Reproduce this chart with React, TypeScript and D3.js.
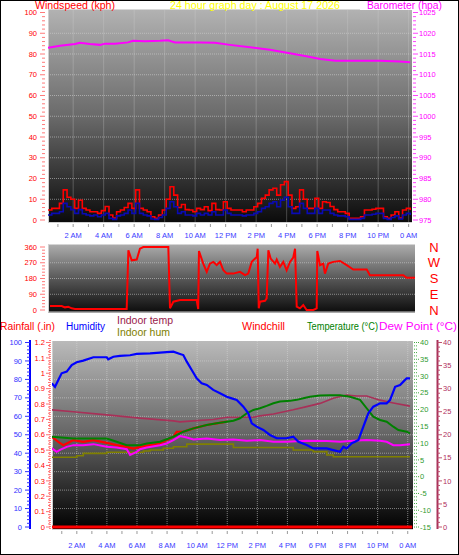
import React from "react";
import * as d3 from "d3";

const FONT = '"Liberation Sans", Arial, Helvetica, sans-serif';

const titleText = "24 hour graph day : August 17 2026";

const hourTicks = [2, 4, 6, 8, 10, 12, 14, 16, 18, 20, 22, 24];
const hourLabels = ["2 AM", "4 AM", "6 AM", "8 AM", "10 AM", "12 PM", "2 PM", "4 PM", "6 PM", "8 PM", "10 PM", "0 AM"];

// Wind speed (kph), one sample every 15 minutes from 00:21
const windStartHour = 0.35;
const windStepHour = 0.25;
const windGust = [
  4.8, 5.6, 5.6, 8, 14.5, 11, 10, 5.6, 9.5, 5.6, 4.8, 4,
  4, 3.2, 4.5, 6.5, 2.4, 1, 4, 4.8, 6, 8, 5.6, 14.5,
  5.6, 4.8, 4, 1.6, 0.8, 2.4, 4.8, 10, 16, 12, 6, 7.5,
  5, 4.8, 4, 5.6, 5, 6.4, 4.5, 8, 5, 4.8, 8.8, 5.6,
  4.8, 4.8, 4.8, 4, 4.8, 4.8, 6.4, 8, 10.4, 12, 14.5, 15.3,
  12, 17, 18.5, 12, 5.6, 6.4, 14.5, 10, 5.6, 5.6, 10.4, 5.6,
  8.8, 8.4, 6.5, 5, 4, 4, 3.2, 0.8, 0.8, 0.8, 1.6, 4.8,
  4.8, 5.2, 5.6, 5.6, 1.6, 0.8, 2.4, 4, 1, 4.8, 5.6, 4.8,
];
const windAvg = [
  2.4, 3.2, 3.2, 4, 8, 6.4, 5, 3.2, 5, 3, 2.4, 2,
  2.4, 1.6, 2.4, 3.2, 0.8, 0.3, 2, 2.4, 3.2, 4.8, 3.2, 8,
  3.2, 2.4, 2, 0.5, 0.3, 1.2, 2.4, 5.6, 8.8, 6.4, 3.2, 4,
  2.4, 2.4, 2, 3.2, 2.4, 3.2, 2.4, 4, 2.4, 2.4, 4.8, 3.2,
  2.4, 2.4, 2.4, 2, 2.4, 2.4, 3.2, 4, 5.6, 6.4, 8, 8.8,
  6.4, 9.6, 11, 6.4, 3.2, 3.2, 8, 5.6, 3.2, 3.2, 5.6, 3.2,
  4.8, 4.8, 3.2, 2.4, 2, 2, 1.6, 0.3, 0.3, 0.3, 0.8, 2.4,
  2.4, 2.8, 3.2, 3.2, 0.8, 0.3, 1.2, 2, 0.5, 2.4, 3.2, 2.4,
];

// Barometer (hPa)
const baroHours = [0.35, 1.14, 2.12, 2.45, 3.1, 3.76, 4.09, 4.74, 5.6, 5.92, 6.71, 7.69, 8.22, 8.68, 10.32, 11.3, 12.28, 13.6, 14.9, 16.2, 17.2, 18.2, 19.2, 20.8, 22.1, 23.4, 24.1];
const baroHpa = [1016.5, 1017.0, 1017.4, 1017.7, 1017.4, 1017.2, 1017.5, 1017.5, 1017.8, 1018.2, 1018.1, 1018.2, 1018.3, 1017.8, 1017.8, 1017.7, 1017.2, 1016.6, 1016.0, 1015.2, 1014.5, 1013.8, 1013.4, 1013.4, 1013.4, 1013.2, 1013.0];

// Wind direction (degrees)
const dirHours = [0.48, 1.25, 1.46, 1.68, 1.9, 2.12, 5.51, 5.62, 5.84, 6.17, 6.38, 6.6, 8.24, 8.35, 8.57, 9.0, 10.1, 10.2, 10.25, 10.53, 10.76, 10.97, 11.19, 11.41, 11.63, 11.85, 12.07, 12.5, 12.94, 13.27, 13.48, 13.71, 14.04, 14.1, 14.17, 14.25, 14.58, 14.69, 14.8, 14.95, 15.24, 15.35, 15.56, 15.78, 16.0, 16.22, 16.43, 16.55, 16.66, 16.87, 17.09, 17.31, 17.75, 17.97, 18.01, 18.19, 18.4, 18.51, 18.73, 19.06, 19.5, 19.94, 20.37, 21.25, 21.46, 23.65, 23.87, 24.42];
const dirDeg = [22.7, 22.7, 15.2, 18.9, 9.5, 5.7, 5.7, 341, 284, 288, 350.5, 360, 360, 9.5, 47.4, 56.8, 56.8, 5.7, 337, 265, 218, 265, 275, 256, 275, 227, 208, 208, 218, 199, 208, 275, 303, 350.5, 9.5, 47.4, 53, 66.3, 341, 294, 265, 288, 246, 275, 227, 275, 299, 350.5, 18.9, 9.5, 28.4, 0, 0, 9.5, 337, 256, 265, 208, 265, 275, 280, 256, 231, 231, 199, 199, 184, 184];

// Bottom panel series
const humHours = [0.33, 0.55, 0.77, 0.99, 1.33, 1.66, 1.99, 2.43, 3.1, 3.99, 4.09, 4.43, 4.87, 5.54, 5.98, 6.87, 7.75, 8.42, 8.86, 9.08, 9.31, 9.64, 9.97, 10.3, 10.64, 11.07, 11.52, 11.97, 12.3, 12.63, 13.07, 13.4, 13.63, 13.96, 14.4, 14.84, 15.29, 15.95, 16.39, 16.73, 17.28, 17.72, 18.62, 19.05, 19.5, 19.72, 19.94, 20.28, 20.5, 20.72, 21.05, 21.38, 21.71, 22.16, 22.6, 22.82, 23.04, 23.16, 23.49, 23.71, 23.93, 24.15];
const humValues = [77.9, 76.0, 79.7, 83.3, 84.2, 87.8, 89.3, 90.2, 92.0, 92.0, 90.9, 92.3, 92.7, 93.1, 93.8, 94.1, 94.7, 95.0, 93.8, 93.2, 89.6, 85.1, 80.6, 77.9, 77.0, 74.3, 72.5, 70.6, 69.7, 68.8, 65.2, 61.6, 56.2, 54.4, 52.6, 49.9, 48.1, 48.1, 49.0, 46.2, 44.4, 42.6, 42.6, 41.7, 40.8, 43.5, 42.6, 45.4, 46.2, 47.2, 54.4, 61.6, 65.2, 67.0, 67.0, 68.8, 73.4, 76.0, 77.0, 78.8, 80.6, 80.6];

const tempHours = [0.33, 1.77, 3.99, 4.65, 5.32, 6.2, 6.65, 7.53, 8.42, 9.08, 9.75, 10.64, 11.3, 11.97, 12.41, 12.85, 13.3, 13.74, 14.18, 14.62, 15.07, 15.51, 16.17, 16.62, 17.06, 17.5, 18.17, 18.83, 19.5, 20.16, 20.83, 21.27, 21.71, 22.16, 22.6, 23.04, 23.38, 23.93, 24.15];
const tempValues = [11.9, 11.4, 11.4, 10.4, 9.4, 9.4, 9.9, 10.4, 11.9, 13.4, 14.4, 15.4, 15.9, 16.4, 16.7, 17.4, 18.9, 19.9, 20.4, 21.1, 21.9, 22.4, 22.6, 22.9, 23.4, 23.8, 24.2, 24.3, 24.3, 23.8, 22.9, 20.4, 17.9, 16.9, 16.4, 14.9, 13.9, 13.4, 12.9];

const chillHours = [0.33, 0.77, 1.1, 1.33, 1.77, 2.43, 3.1, 3.99, 4.65, 5.32, 5.76, 6.2, 6.87, 7.53, 8.42, 8.64, 9.08, 9.75, 10.64, 11.3, 11.97];
const chillValues = [11.9, 10.4, 9.4, 9.9, 10.9, 10.4, 10.9, 10.1, 9.4, 8.9, 8.4, 8.9, 9.4, 9.9, 11.9, 13.4, 13.4, 14.4, 15.4, 15.9, 16.4];

const dewHours = [0.33, 0.66, 0.88, 1.33, 1.77, 2.43, 3.1, 3.99, 4.65, 5.32, 5.54, 5.98, 6.2, 6.65, 7.53, 7.97, 8.42, 8.86, 9.31, 9.75, 10.64, 11.52, 12.41, 13.3, 14.18, 15.07, 15.95, 17.28, 18.62, 19.5, 20.39, 21.27, 22.16, 22.6, 23.04, 23.49, 24.15];
const dewValues = [8.5, 7.4, 8.0, 8.9, 9.4, 9.4, 9.7, 8.9, 8.7, 8.2, 6.5, 7.4, 8.2, 8.7, 9.4, 9.9, 10.9, 12.1, 11.7, 11.1, 11.4, 10.9, 11.1, 10.7, 10.9, 10.4, 10.4, 10.7, 10.6, 10.4, 10.7, 10.9, 10.7, 10.4, 9.4, 9.4, 9.7];

const inTempHours = [0.33, 1.77, 3.99, 6.2, 8.42, 8.86, 9.75, 11.07, 11.97, 12.85, 13.74, 14.18, 15.07, 16.39, 17.28, 18.17, 19.05, 19.94, 20.61, 21.27, 22.16, 23.04, 24.15];
const inTempValues = [25.4, 25.0, 24.3, 23.6, 23.0, 22.8, 23.0, 23.3, 23.8, 23.8, 23.8, 24.1, 24.5, 25.4, 26.1, 26.8, 27.9, 28.6, 28.4, 28.4, 27.5, 26.9, 26.2];

const inHumHours = [0.33, 1.33, 1.99, 2.43, 3.1, 3.99, 6.2, 6.43, 6.87, 7.75, 8.42, 9.31, 11.97, 12.41, 15.95, 16.39, 17.72, 18.62, 19.05, 23.93, 24.15];
const inHumValues = [37.8, 37.8, 38.6, 39.9, 39.9, 40.5, 40.5, 41.2, 41.7, 42.7, 43.5, 44.9, 44.9, 43.1, 43.1, 41.7, 40.8, 39.0, 38.1, 38.1, 38.1];

const rainHours = [0.3, 24.3];
const rainValues = [0, 0];

const windTicks = [0, 10, 20, 30, 40, 50, 60, 70, 80, 90, 100];
const baroTicks = [975, 980, 985, 990, 995, 1000, 1005, 1010, 1015, 1020, 1025];
const dirTicks = [0, 90, 180, 270, 360];
const dirNames = ["N", "E", "S", "W", "N"];
const humTicks = [0, 10, 20, 30, 40, 50, 60, 70, 80, 90, 100];
const rainTicks = [0, 0.1, 0.2, 0.3, 0.4, 0.5, 0.6, 0.7, 0.8, 0.9, 1, 1.1, 1.2];
const tempTicks = [-15, -10, -5, 0, 5, 10, 15, 20, 25, 30, 35, 40];
const inTicks = [0, 5, 10, 15, 20, 25, 30, 35, 40];

function path(xs: number[], ys: number[], sx: any, sy: any, curve: any = d3.curveLinear) {
  const idx = xs.map((_, i) => i).filter((i) => i < ys.length);
  return d3.line<number>().x((i) => sx(xs[i])).y((i) => sy(ys[i])).curve(curve)(idx) || "";
}

function Head({ x, y, w, color, children }: { x: number; y: number; w: number; color: string; children: any }) {
  return (
    <text x={x} y={y} fontSize={10} fill={color} textLength={w} lengthAdjust="spacingAndGlyphs">{children}</text>
  );
}

export default function App() {
  const xTop = d3.scaleLinear().domain([0.35, 24.22]).range([48, 412]);
  const xBot = d3.scaleLinear().domain([0.35, 24.35]).range([52, 413]);
  const yWind = d3.scaleLinear().domain([0, 100]).range([220, 12.5]);
  const yBaro = d3.scaleLinear().domain([975, 1025]).range([220, 12.5]);
  const yDir = d3.scaleLinear().domain([0, 360]).range([310, 247]);
  const yHum = d3.scaleLinear().domain([0, 100]).range([527, 342.5]);
  const yRain = d3.scaleLinear().domain([0, 1.2]).range([527, 342.5]);
  const yTemp = d3.scaleLinear().domain([-15, 40]).range([527, 342.5]);
  const yIn = d3.scaleLinear().domain([0, 40]).range([527, 342.5]);

  const windHours = windGust.map((_, i) => windStartHour + i * windStepHour);

  const top = { x0: 48, x1: 412, y0: 9.5, y1: 223 };
  const mid = { x0: 48, x1: 415, y0: 244.5, y1: 312.5 };
  const bot = { x0: 52, x1: 413, y0: 341, y1: 530 };

  const grid = "rgba(215,215,215,0.55)";
  const small = 7.5;

  return (
    <svg width={459} height={555} style={{ position: "absolute", left: 0, top: 0, background: "#fff" }} fontFamily={FONT}>
      <defs>
        <linearGradient id="gTop" x1="0" y1="0" x2="0" y2="1">
          <stop offset="0" stopColor="#b2b2b2" />
          <stop offset="0.5" stopColor="#6a6a6a" />
          <stop offset="1" stopColor="#0a0a0a" />
        </linearGradient>
        <linearGradient id="gMid" x1="0" y1="0" x2="0" y2="1">
          <stop offset="0" stopColor="#acacac" />
          <stop offset="0.55" stopColor="#505050" />
          <stop offset="1" stopColor="#0c0c0c" />
        </linearGradient>
        <linearGradient id="gBot" x1="0" y1="0" x2="0" y2="1">
          <stop offset="0" stopColor="#bababa" />
          <stop offset="0.5" stopColor="#646464" />
          <stop offset="1" stopColor="#000000" />
        </linearGradient>
        <clipPath id="cTop"><rect x={top.x0} y={top.y0} width={top.x1 - top.x0} height={top.y1 - top.y0} /></clipPath>
        <clipPath id="cMid"><rect x={mid.x0} y={mid.y0} width={mid.x1 - mid.x0} height={mid.y1 - mid.y0} /></clipPath>
        <clipPath id="cBot"><rect x={bot.x0} y={bot.y0} width={bot.x1 - bot.x0} height={bot.y1 - bot.y0} /></clipPath>
      </defs>
      <rect x={0.5} y={0.5} width={458} height={554} fill="#fff" stroke="#000" />

      {/* ===== Top panel ===== */}
      <rect x={top.x0} y={top.y0} width={top.x1 - top.x0} height={top.y1 - top.y0} fill="url(#gTop)" />
      {windTicks.slice(1, -1).map((v) => (
        <line key={"gw" + v} x1={top.x0} x2={top.x1} y1={yWind(v)} y2={yWind(v)} stroke={grid} strokeDasharray="1,1" />
      ))}
      {hourTicks.map((h) => (
        <line key={"gv" + h} x1={xTop(h)} x2={xTop(h)} y1={top.y0} y2={top.y1} stroke={grid} strokeDasharray="1,1" />
      ))}
      <line x1={top.x0} x2={top.x1} y1={top.y1 - 0.5} y2={top.y1 - 0.5} stroke="#cfcfcf" />
      <line x1={top.x0 + 0.5} x2={top.x0 + 0.5} y1={top.y0} y2={top.y1} stroke="#cfcfcf" />
      <g clipPath="url(#cTop)">
        <path d={path(windHours, windGust, xTop, yWind, d3.curveStepAfter)} fill="none" stroke="#ff0000" strokeWidth={1.6} />
        <path d={path(windHours, windAvg, xTop, yWind, d3.curveStepAfter)} fill="none" stroke="#0a0ab4" strokeWidth={1.6} />
        <path d={path(baroHours, baroHpa, xTop, yBaro)} fill="none" stroke="#ff00ff" strokeWidth={2} />
      </g>
      {d3.range(0, 101, 2).map((v) => (
        <line key={"tw" + v} x1={v % 10 === 0 ? 40 : 42} x2={45} y1={yWind(v)} y2={yWind(v)} stroke="#ff7a7a" />
      ))}
      {windTicks.map((v) => (
        <text key={"lw" + v} x={37} y={yWind(v)} dy="0.35em" fontSize={small} fill="#ff0000" textAnchor="end">{v}</text>
      ))}
      {d3.range(975, 1026, 1).map((v) => (
        <line key={"tb" + v} x1={413} x2={v % 5 === 0 ? 418 : 416} y1={yBaro(v)} y2={yBaro(v)} stroke="#ff44ff" />
      ))}
      {baroTicks.map((v) => (
        <text key={"lb" + v} x={419} y={yBaro(v)} dy="0.35em" fontSize={small} fill="#ff00ff">{v}</text>
      ))}
      <rect x={360} y={1} width={97} height={9} fill="#fff" />
      <Head x={35} y={9} w={80} color="#ff0000">Windspeed (kph)</Head>
      <Head x={170} y={9} w={170} color="#ffff00">{titleText}</Head>
      <Head x={367} y={9} w={75} color="#ff00ff">Barometer (hpa)</Head>
      {d3.range(1, 25).map((h) => (
        <line key={"xt" + h} x1={xTop(h)} x2={xTop(h)} y1={224} y2={227} stroke="#9a9a9a" />
      ))}
      {hourTicks.map((h, i) => (
        <text key={"xl" + h} x={xTop(h)} y={238} fontSize={small} fill="#3a3aff" textAnchor="middle">{hourLabels[i]}</text>
      ))}

      {/* ===== Middle panel ===== */}
      <rect x={mid.x0} y={mid.y0} width={mid.x1 - mid.x0} height={mid.y1 - mid.y0} fill="url(#gMid)" />
      {[90, 180, 270].map((v) => (
        <line key={"gd" + v} x1={mid.x0} x2={mid.x1} y1={yDir(v)} y2={yDir(v)} stroke={grid} strokeDasharray="1,1" />
      ))}
      <line x1={mid.x0} x2={mid.x1} y1={mid.y1 - 0.5} y2={mid.y1 - 0.5} stroke="#d0d0d0" />
      <line x1={mid.x0 + 0.5} x2={mid.x0 + 0.5} y1={mid.y0} y2={mid.y1} stroke="#d0d0d0" />
      <g clipPath="url(#cMid)">
        <path d={path(dirHours, dirDeg, xTop, yDir)} fill="none" stroke="#ff0000" strokeWidth={2} />
      </g>
      {d3.range(0, 361, 18).map((v) => (
        <line key={"td" + v} x1={v % 90 === 0 ? 40 : 42} x2={45} y1={yDir(v)} y2={yDir(v)} stroke="#ff7a7a" />
      ))}
      {dirTicks.map((v) => (
        <text key={"ld" + v} x={37} y={yDir(v)} dy="0.35em" fontSize={small} fill="#ff0000" textAnchor="end">{v}</text>
      ))}
      {dirTicks.map((v, i) => (
        <text key={"nd" + v} x={434} y={yDir(v)} dy="0.36em" fontSize={13} fill="#ff0000" textAnchor="middle">{dirNames[i]}</text>
      ))}

      {/* ===== Bottom panel ===== */}
      <Head x={0} y={330} w={55} color="#ff0000">Rainfall (.in)</Head>
      <Head x={66} y={330} w={39} color="#0000ff">Humidity</Head>
      <Head x={117} y={323.5} w={56} color="#99204a">Indoor temp</Head>
      <Head x={117} y={336} w={53} color="#808000">Indoor hum</Head>
      <Head x={242} y={330} w={43} color="#ff0000">Windchill</Head>
      <Head x={307} y={330} w={71} color="#008000">Temperature (°C)</Head>
      <Head x={379} y={330} w={78} color="#ff00ff">Dew Point (°C)</Head>

      <rect x={bot.x0} y={bot.y0} width={bot.x1 - bot.x0} height={bot.y1 - bot.y0} fill="url(#gBot)" />
      {humTicks.slice(1, -1).map((v) => (
        <line key={"gh" + v} x1={bot.x0} x2={bot.x1} y1={yHum(v)} y2={yHum(v)} stroke={grid} strokeDasharray="1,1" />
      ))}
      {hourTicks.map((h) => (
        <line key={"gbv" + h} x1={xBot(h)} x2={xBot(h)} y1={bot.y0} y2={bot.y1} stroke={grid} strokeDasharray="1,1" />
      ))}
      <line x1={bot.x0} x2={bot.x1} y1={bot.y1 - 0.5} y2={bot.y1 - 0.5} stroke="#d0d0d0" />
      <line x1={bot.x0 + 0.5} x2={bot.x0 + 0.5} y1={bot.y0} y2={bot.y1} stroke="#d0d0d0" />
      <g clipPath="url(#cBot)">
        <path d={path(rainHours, rainValues, xBot, yRain)} fill="none" stroke="#ff0000" strokeWidth={3} />
        <path d={path(inHumHours, inHumValues, xBot, yHum, d3.curveStepAfter)} fill="none" stroke="#808000" strokeWidth={1.6} />
        <path d={path(inTempHours, inTempValues, xBot, yIn)} fill="none" stroke="#a83058" strokeWidth={1.6} />
        <path d={path(chillHours, chillValues, xBot, yTemp)} fill="none" stroke="#ff0000" strokeWidth={2.2} />
        <path d={path(tempHours, tempValues, xBot, yTemp)} fill="none" stroke="#008000" strokeWidth={2} />
        <path d={path(dewHours, dewValues, xBot, yTemp)} fill="none" stroke="#ff00ff" strokeWidth={2} />
        <path d={path(humHours, humValues, xBot, yHum)} fill="none" stroke="#0000ff" strokeWidth={2.2} />
      </g>

      {/* humidity axis */}
      <line x1={30} x2={30} y1={340} y2={529} stroke="#0000ff" strokeWidth={2} />
      {d3.range(0, 101, 2).map((v) => (
        <line key={"th" + v} x1={v % 10 === 0 ? 25 : 27} x2={30} y1={yHum(v)} y2={yHum(v)} stroke="#3030ff" />
      ))}
      {humTicks.map((v) => (
        <text key={"lh" + v} x={22} y={yHum(v)} dy="0.35em" fontSize={small} fill="#3030ff" textAnchor="end">{v}</text>
      ))}
      {/* rainfall axis */}
      <line x1={50} x2={50} y1={340} y2={529} stroke="#ff6060" strokeWidth={1.5} strokeDasharray="1,1" />
      {d3.range(0, 61, 1).map((k) => (
        <line key={"tr" + k} x1={k % 5 === 0 ? 46 : 48} x2={50} y1={yRain(k * 0.02)} y2={yRain(k * 0.02)} stroke="#ff7070" />
      ))}
      {rainTicks.map((v) => (
        <text key={"lr" + v} x={45} y={yRain(v)} dy="0.35em" fontSize={small} fill="#ff0000" textAnchor="end">{String(v)}</text>
      ))}
      {/* temperature axis */}
      {d3.range(-15, 41, 1).map((v) => (
        <line key={"tt" + v} x1={414} x2={v % 5 === 0 ? 419 : 417} y1={yTemp(v)} y2={yTemp(v)} stroke="#44aa44" strokeDasharray="1,1" />
      ))}
      {tempTicks.map((v) => (
        <text key={"lt" + v} x={420} y={yTemp(v)} dy="0.35em" fontSize={small} fill="#2f9a2f">{v}</text>
      ))}
      {/* indoor axis */}
      <line x1={437.5} x2={437.5} y1={340} y2={529} stroke="#a83058" strokeWidth={2} />
      {d3.range(0, 41, 1).map((v) => (
        <line key={"ti" + v} x1={437.5} x2={v % 5 === 0 ? 442 : 440} y1={yIn(v)} y2={yIn(v)} stroke="#c05070" />
      ))}
      {inTicks.map((v) => (
        <text key={"li" + v} x={443} y={yIn(v)} dy="0.35em" fontSize={small} fill="#b03060">{v}</text>
      ))}
      {d3.range(1, 25).map((h) => (
        <line key={"bxt" + h} x1={xBot(h)} x2={xBot(h)} y1={531} y2={534} stroke="#9a9a9a" />
      ))}
      {hourTicks.map((h, i) => (
        <text key={"bxl" + h} x={xBot(h)} y={548} fontSize={small} fill="#3a3aff" textAnchor="middle">{hourLabels[i]}</text>
      ))}
    </svg>
  );
}
